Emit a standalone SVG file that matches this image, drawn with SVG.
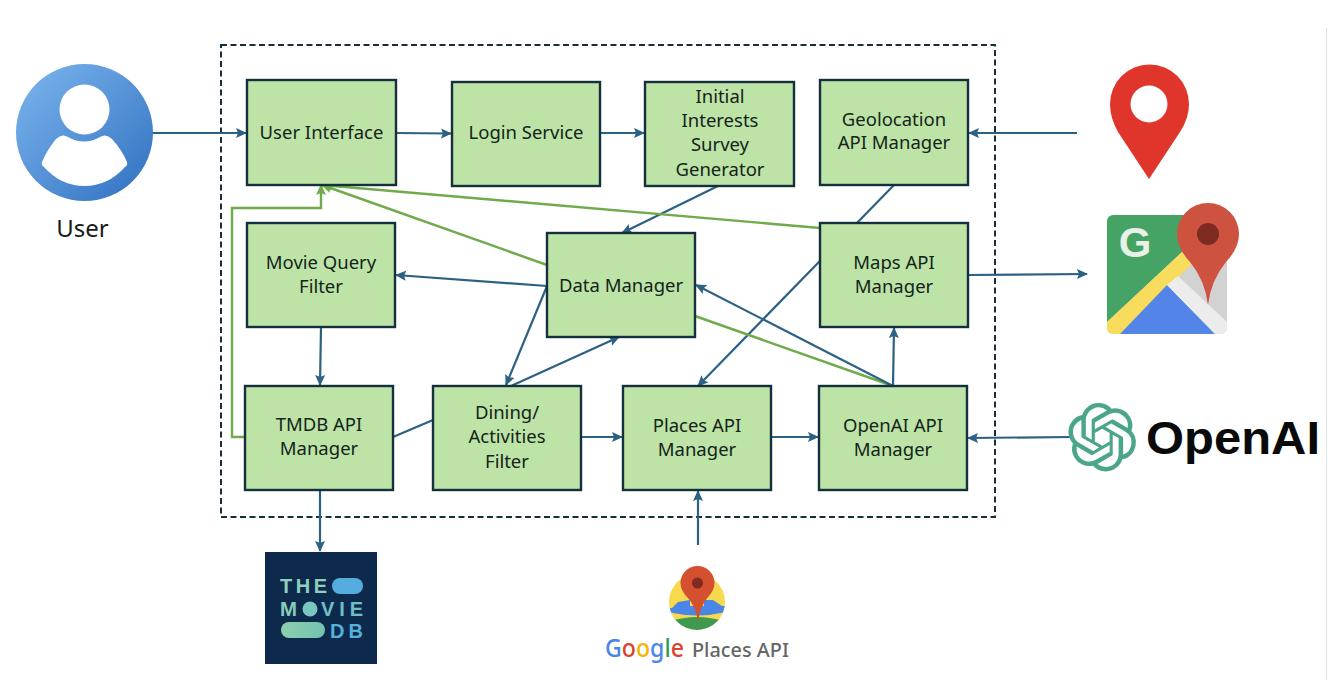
<svg xmlns="http://www.w3.org/2000/svg" width="1328" height="680" viewBox="0 0 1328 680">
<style>
text{font-family:"Noto Sans","Open Sans",sans-serif}
.box{fill:#bde3a7;stroke:#14303c;stroke-width:2.4}
.lbl{font-size:18.5px;fill:#14241a;text-anchor:middle}
.b{fill:none;stroke:#2c6184;stroke-width:2.2}
.g{fill:none;stroke:#6fab4a;stroke-width:2.4}
.sans{font-family:"Liberation Sans",sans-serif}
</style>
<defs>
<marker id="ab" markerUnits="userSpaceOnUse" markerWidth="12" markerHeight="11" refX="10" refY="5.500" orient="auto"><path d="M0,0.500L11,5.500L0,10.500L2,5.500Z" fill="#2c6184"/></marker>
<marker id="ag" markerUnits="userSpaceOnUse" markerWidth="12" markerHeight="11" refX="10" refY="5.500" orient="auto"><path d="M0,0.500L11,5.500L0,10.500L2,5.500Z" fill="#6fab4a"/></marker>
<linearGradient id="ug" x1="0" y1="0" x2="1" y2="1"><stop offset="0" stop-color="#7db7ef"/><stop offset="1" stop-color="#2f6fc0"/></linearGradient>
<linearGradient id="pg" x1="0" y1="0" x2="1" y2="0"><stop offset="0" stop-color="#8dcfae"/><stop offset="1" stop-color="#73c2b0"/></linearGradient>
<clipPath id="pc"><circle cx="697" cy="602" r="28"/></clipPath>
</defs>
<rect width="1328" height="680" fill="#fff"/>
<line x1="1326.500" y1="28" x2="1326.500" y2="680" stroke="#e2e2e2" stroke-width="1"/>
<rect id="boundary" x="221" y="45" width="774" height="472" fill="none" stroke="#14303c" stroke-width="2" stroke-dasharray="6 3.500"/>
<g id="connectors">
<path class="b" marker-end="url(#ab)" d="M153,133H246"/>
<path class="b" marker-end="url(#ab)" d="M396,133L451,133.500"/>
<path class="b" marker-end="url(#ab)" d="M600,133H644"/>
<path class="b" marker-end="url(#ab)" d="M718,186L622,233"/>
<path class="b" marker-end="url(#ab)" d="M894,185L698,386"/>
<path class="b" marker-end="url(#ab)" d="M1077,133H969"/>
<path class="b" marker-end="url(#ab)" d="M968,275L1087,274"/>
<path class="g" marker-end="url(#ag)" d="M820,228L322,185"/>
<path class="g" marker-end="url(#ag)" d="M547,265L322,185"/>
<path class="g" marker-end="url(#ag)" d="M245,437H232V208H321V185"/>
<path class="b" marker-end="url(#ab)" d="M547,286L396,275"/>
<path class="b" marker-end="url(#ab)" d="M547,286L506,385"/>
<path class="b" marker-end="url(#ab)" d="M511,386L619,337"/>
<path class="g" d="M893,386L695,316"/>
<path class="b" marker-end="url(#ab)" d="M893,386L696,285"/>
<path class="b" marker-end="url(#ab)" d="M893,386L894,328"/>
<path class="b" marker-end="url(#ab)" d="M321,327L320,385"/>
<path class="b" d="M393,437L433,420"/>
<path class="b" marker-end="url(#ab)" d="M581,437H622"/>
<path class="b" marker-end="url(#ab)" d="M771,437H818"/>
<path class="b" marker-end="url(#ab)" d="M1072,437L968,438"/>
<path class="b" marker-end="url(#ab)" d="M698,545V491"/>
<path class="b" marker-end="url(#ab)" d="M320,490V551"/>
</g>
<g id="user">
<circle cx="84.500" cy="132.500" r="68.500" fill="url(#ug)"/>
<circle cx="84.500" cy="109.500" r="25" fill="#fff"/>
<path d="M56,139Q62,133 68,137Q84,146 100,137Q106,133 112,139Q122,150 127,162Q128,165 125,167Q108,186 84.500,186Q61,186 44,167Q41,165 42,162Q47,150 56,139Z" fill="#fff"/>
<text x="82.500" y="237" font-size="24" fill="#1a1a1a" text-anchor="middle">User</text>
</g>
<g id="ui"><rect class="box" x="247" y="80" width="149" height="105"/><text class="lbl" x="321.500" y="139">User Interface</text></g>
<g id="login"><rect class="box" x="452" y="82" width="148" height="104"/><text class="lbl" x="526" y="139">Login Service</text></g>
<g id="survey"><rect class="box" x="645" y="82" width="149" height="104"/><text class="lbl"><tspan x="720" y="103">Initial</tspan><tspan x="720" y="127">Interests</tspan><tspan x="720" y="151">Survey</tspan><tspan x="720" y="176">Generator</tspan></text></g>
<g id="geo"><rect class="box" x="820" y="80" width="148" height="105"/><text class="lbl"><tspan x="894" y="126">Geolocation</tspan><tspan x="894" y="149">API Manager</tspan></text></g>
<g id="movie"><rect class="box" x="247" y="223" width="148" height="104"/><text class="lbl"><tspan x="321" y="269">Movie Query</tspan><tspan x="321" y="293">Filter</tspan></text></g>
<g id="data"><rect class="box" x="547" y="233" width="148" height="104"/><text class="lbl" x="621" y="292">Data Manager</text></g>
<g id="maps"><rect class="box" x="820" y="223" width="148" height="104"/><text class="lbl"><tspan x="894" y="269">Maps API</tspan><tspan x="894" y="293">Manager</tspan></text></g>
<g id="tmdb"><rect class="box" x="245" y="386" width="148" height="104"/><text class="lbl"><tspan x="319" y="431">TMDB API</tspan><tspan x="319" y="455">Manager</tspan></text></g>
<g id="dining"><rect class="box" x="433" y="386" width="148" height="104"/><text class="lbl"><tspan x="507" y="419">Dining/</tspan><tspan x="507" y="443">Activities</tspan><tspan x="507" y="468">Filter</tspan></text></g>
<g id="places"><rect class="box" x="623" y="386" width="148" height="104"/><text class="lbl"><tspan x="697" y="432">Places API</tspan><tspan x="697" y="456">Manager</tspan></text></g>
<g id="openai"><rect class="box" x="819" y="386" width="148" height="104"/><text class="lbl"><tspan x="893" y="432">OpenAI API</tspan><tspan x="893" y="456">Manager</tspan></text></g>
<g id="geo-pin">
<path d="M1149,179L1118,132Q1110,118 1110,104A39.500,39.500 0 0 1 1189,104Q1189,118 1180,132Z" fill="#e0352b"/>
<circle cx="1149" cy="104" r="18.500" fill="#fff"/>
</g>
<g id="google-maps">
<rect x="1107" y="215" width="120" height="119" rx="7" fill="#d2d2d2"/>
<path d="M1114,215H1190L1182,252L1107,322V222Q1107,215 1114,215Z" fill="#45a366"/>
<path d="M1107,322L1182,252L1192,264L1120,334H1114Q1107,334 1107,328Z" fill="#f8dc5e"/>
<path d="M1120,334L1167,285L1215,334Z" fill="#5384e8"/>
<path d="M1167,285L1178,276L1227,322V328Q1227,334 1220,334H1215Z" fill="#ececec"/>
<text class="sans" x="1135" y="257" font-size="42" fill="#e8f0e8" font-weight="700" text-anchor="middle">G</text>
<path d="M1208,305Q1205,280 1190,262Q1177,248 1177,234A31,31 0 0 1 1239,234Q1239,248 1226,262Q1211,280 1208,305Z" fill="#cd5240"/>
<circle cx="1208" cy="234" r="11" fill="#7e2c22"/>
</g>
<g id="openai-logo">
<path transform="translate(1068,403) scale(2.85)" fill="#4ba58a" d="M22.2819 9.8211a5.9847 5.9847 0 0 0-.5157-4.9108 6.0462 6.0462 0 0 0-6.5098-2.9A6.0651 6.0651 0 0 0 4.9807 4.1818a5.9847 5.9847 0 0 0-3.9977 2.9 6.0462 6.0462 0 0 0 .7427 7.0966 5.98 5.98 0 0 0 .511 4.9107 6.051 6.051 0 0 0 6.5146 2.9001A5.9847 5.9847 0 0 0 13.2599 24a6.0557 6.0557 0 0 0 5.7718-4.2058 5.9894 5.9894 0 0 0 3.9977-2.9001 6.0557 6.0557 0 0 0-.7475-7.0729zm-9.022 12.6081a4.4755 4.4755 0 0 1-2.8764-1.0408l.1419-.0804 4.7783-2.7582a.7948.7948 0 0 0 .3927-.6813v-6.7369l2.02 1.1686a.071.071 0 0 1 .038.052v5.5826a4.504 4.504 0 0 1-4.4945 4.4944zm-9.6607-4.1254a4.4708 4.4708 0 0 1-.5346-3.0137l.142.0852 4.783 2.7582a.7712.7712 0 0 0 .7806 0l5.8428-3.3685v2.3324a.0804.0804 0 0 1-.0332.0615L9.74 19.9502a4.4992 4.4992 0 0 1-6.1408-1.6464zM2.3408 7.8956a4.485 4.485 0 0 1 2.3655-1.9728V11.6a.7664.7664 0 0 0 .3879.6765l5.8144 3.3543-2.0201 1.1685a.0757.0757 0 0 1-.071 0l-4.8303-2.7865A4.504 4.504 0 0 1 2.3408 7.872zm16.5963 3.8558L13.1038 8.364 15.1192 7.2a.0757.0757 0 0 1 .071 0l4.8303 2.7913a4.4944 4.4944 0 0 1-.6765 8.1042v-5.6772a.79.79 0 0 0-.407-.667zm2.0107-3.0231l-.142-.0852-4.7735-2.7818a.7759.7759 0 0 0-.7854 0L9.409 9.2297V6.8974a.0662.0662 0 0 1 .0284-.0615l4.8303-2.7866a4.4992 4.4992 0 0 1 6.6802 4.66zM8.3065 12.863l-2.02-1.1638a.0804.0804 0 0 1-.038-.0567V6.0742a4.4992 4.4992 0 0 1 7.3757-3.4537l-.142.0805L8.704 5.459a.7948.7948 0 0 0-.3927.6813zm1.0976-2.3654l2.602-1.4998 2.6069 1.4998v2.9994l-2.5974 1.4997-2.6067-1.4997Z"/>
<text class="sans" x="1146" y="454" font-size="46" font-weight="700" fill="#0a0a0a" textLength="174" lengthAdjust="spacingAndGlyphs">OpenAI</text>
</g>
<g id="tmdb-logo">
<rect x="265" y="552" width="112" height="112" fill="#0d2a4c"/>
<g class="sans" font-size="20" font-weight="700">
<text class="sans" x="280" y="593" fill="#8fd0bc" textLength="47" lengthAdjust="spacing">THE</text>
<text class="sans" x="280" y="616" fill="#85cdbc" textLength="17" lengthAdjust="spacingAndGlyphs">M</text>
<text class="sans" x="321" y="616" fill="#6cc0c8" textLength="42" lengthAdjust="spacing">VIE</text>
<text class="sans" x="330" y="638" fill="#55b0dc" textLength="33" lengthAdjust="spacing">DB</text>
</g>
<rect x="332" y="578" width="31" height="16" rx="8" fill="#55addf"/>
<circle cx="310" cy="609" r="7.500" fill="#79c7bd"/>
<rect x="281" y="622" width="44" height="16" rx="8" fill="url(#pg)"/>
</g>
<g id="places-logo">
<circle cx="697" cy="602" r="28" fill="#f8d94e"/>
<g clip-path="url(#pc)">
<path d="M668,608H672L678,602L690,600V606H704V600H713L722,606H726V612Q697,619 668,612Z" fill="#4a86e8"/>
<path d="M668,618Q697,610 726,618V612Q697,606 668,612Z" fill="#fff" opacity="0"/>
<path d="M668,622Q697,612 726,622V632H668Z" fill="#3f9a50"/>
</g>
<path d="M698,622Q696,606 687,597Q680.500,590 680.500,583A17,17 0 0 1 714.500,583Q714.500,590 708,597Q700,606 698,622Z" fill="#d4502f"/>
<circle cx="697.500" cy="583" r="5.500" fill="#7e2c22"/>
<text x="605" y="657" font-size="25" font-weight="500" textLength="79" lengthAdjust="spacingAndGlyphs"><tspan fill="#4a86e8">G</tspan><tspan fill="#d9452f">o</tspan><tspan fill="#f4b400">o</tspan><tspan fill="#4a86e8">g</tspan><tspan fill="#2f9e50">l</tspan><tspan fill="#d9452f">e</tspan></text>
<text x="692" y="657" font-size="20" font-weight="500" fill="#666" textLength="97" lengthAdjust="spacingAndGlyphs">Places API</text>
</g>
</svg>
